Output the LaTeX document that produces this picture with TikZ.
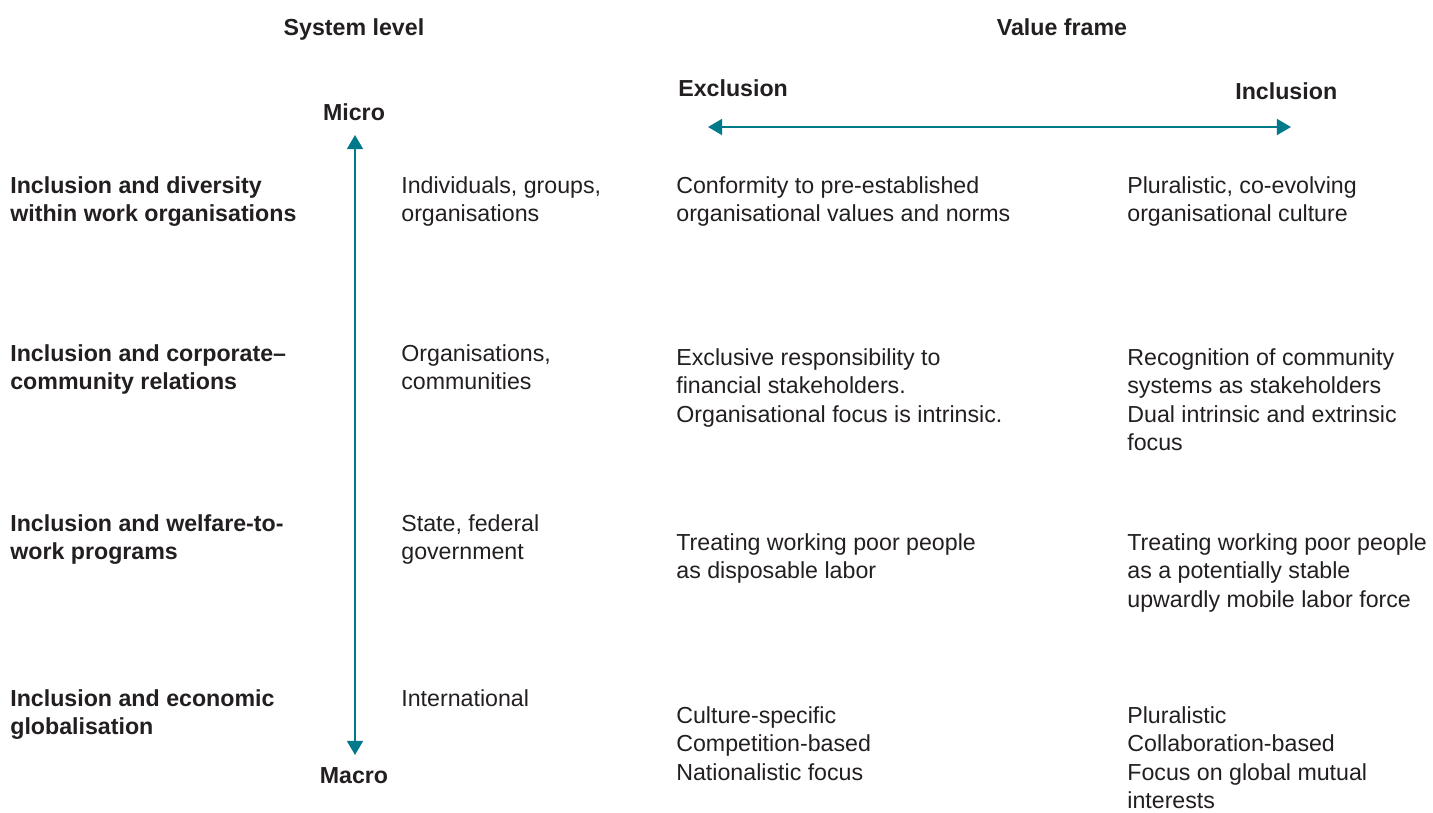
\documentclass[tikz,border=0pt]{standalone}
\usepackage{fontspec}
\setmainfont{Liberation Sans}
\usetikzlibrary{arrows.meta,positioning}
\definecolor{axisteal}{HTML}{00798A}
\definecolor{ink}{HTML}{231F20}

\begin{document}
\begin{tikzpicture}[x=0.02cm,y=-0.02cm,>={Triangle[width=9pt,length=8pt]},
  every node/.style={text=ink,inner sep=0pt,font=\fontsize{13.2}{16.2}\selectfont},
  txt/.style={anchor=base west,align=left},
  head/.style={anchor=base,font=\fontsize{13.2}{16.2}\selectfont\bfseries},
  topic/.style={txt,font=\fontsize{13.2}{16.2}\selectfont\bfseries},
  axisline/.style={draw=axisteal,line width=1.2pt,<->}]
  \useasboundingbox (0,0) rectangle (1433,812);
  % headings (multi-line nodes sit on their last baseline)
  \node [head] (syslevel) at (354,35) {System level};
  \node [head] (valframe) at (1062,35) {Value frame};
  \node [topic] (excl) at (678,96) {Exclusion};
  \node [topic] (incl) at (1235,99) {Inclusion};
  \node [head] (micro) at (354,120) {Micro};
  \node [head] (macro) at (354,783) {Macro};
  \coordinate (exclend) at (708,127);
  \coordinate (inclend) at (1291,127);
  \coordinate (microend) at (355,135);
  \coordinate (macroend) at (355,755);
  \draw [axisline] (exclend) -- (inclend);
  \draw [axisline] (microend) -- (macroend);
  % row 1
  \node [topic] (diversity) at (10,221.5) {Inclusion and diversity\\within work organisations};
  \node [txt] (indiv) at (401,221.5) {Individuals, groups,\\organisations};
  \node [txt] (conform) at (676,221.5) {Conformity to pre-established\\organisational values and norms};
  \node [txt] (plural) at (1127,221.5) {Pluralistic, co-evolving\\organisational culture};
  % row 2
  \node [topic] (corporate) at (10,389.5) {Inclusion and corporate--\\community relations};
  \node [txt] (orgs) at (401,389.5) {Organisations,\\communities};
  \node [txt] (exclusive) at (676,422) {Exclusive responsibility to\\financial stakeholders.\\Organisational focus is intrinsic.};
  \node [txt] (recog) at (1127,450.5) {Recognition of community\\systems as stakeholders\\Dual intrinsic and extrinsic\\focus};
  % row 3
  \node [topic] (welfare) at (10,559.5) {Inclusion and welfare-to-\\work programs};
  \node [txt] (state) at (401,559.5) {State, federal\\government};
  \node [txt] (dispos) at (676,578.5) {Treating working poor people\\as disposable labor};
  \node [txt] (stable) at (1127,607) {Treating working poor people\\as a potentially stable\\upwardly mobile labor force};
  % row 4
  \node [topic] (global) at (10,734.5) {Inclusion and economic\\globalisation};
  \node [txt] (intl) at (401,706) {International};
  \node [txt] (culture) at (676,780) {Culture-specific\\Competition-based\\Nationalistic focus};
  \node [txt] (collab) at (1127,808.5) {Pluralistic\\Collaboration-based\\Focus on global mutual\\interests};
\end{tikzpicture}
\end{document}
